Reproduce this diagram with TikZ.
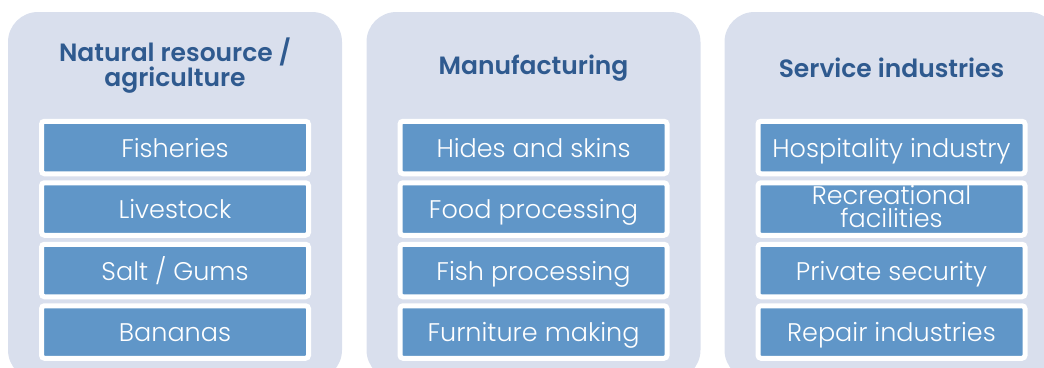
\documentclass[tikz,border=0pt]{standalone}
\usepackage{fontspec}
\usetikzlibrary{positioning}
\newfontfamily\gothic{Poppins}[UprightFont={* Light}, BoldFont={* SemiBold}]
\definecolor{panelbg}{HTML}{D9DFED}
\definecolor{itemblue}{HTML}{6096C8}
\definecolor{headblue}{HTML}{2F5A8F}
\tikzset{
	panel/.style={fill=panelbg, rounded corners=30pt},
	heading/.style={text=headblue, align=center, font=\gothic\bfseries\fontsize{25}{22}\selectfont},
	itembox/.style={draw=white, line width=5pt, fill=itemblue, rounded corners=3pt, inner sep=0pt,
			minimum width=267pt, minimum height=52.5pt, text=white, align=center,
			text height=22pt, text depth=3pt, font=\gothic\fontsize{25.5}{24}\selectfont},
	twoline/.style={text height=40pt, text depth=3pt, font=\gothic\fontsize{25.5}{23}\selectfont},
}
\begin{document}
\begin{tikzpicture}[x=1pt, y=-1pt]
	\useasboundingbox (0, 0) rectangle (1044, 367);
	\clip (0, 0) rectangle (1044, 367);

	% three panels
	\foreach \x in {8, 366.5, 724.5} {
			\fill[panel] (\x, 12) rectangle ++ (334, 368);
		}

	% natural resource
	\node[heading] (natural) at (175, 66) {Natural resource /\\agriculture};
	\node[itembox] (fisheries) at (175, 147.5) {Fisheries};
	\node[itembox, below=4pt of fisheries] (livestock) {Livestock};
	\node[itembox, below=4pt of livestock] (salt) {Salt / Gums};
	\node[itembox, below=4pt of salt] (bananas) {Bananas};

	% manufacturing
	\node[heading] (manufacturing) at (533.5, 68) {Manufacturing};
	\node[itembox] (hides) at (533.5, 147.5) {Hides and skins};
	\node[itembox, below=4pt of hides] (food) {Food processing};
	\node[itembox, below=4pt of food] (fish) {Fish processing};
	\node[itembox, below=4pt of fish] (furniture) {Furniture making};

	% service
	\node[heading] (service) at (891.5, 68) {Service industries};
	\node[itembox] (hospitality) at (891.5, 147.5) {Hospitality industry};
	\node[itembox, twoline, below=4pt of hospitality] (recreation) {Recreational\\facilities};
	\node[itembox, below=4pt of recreation] (security) {Private security};
	\node[itembox, below=4pt of security] (repair) {Repair industries};
\end{tikzpicture}
\end{document}
